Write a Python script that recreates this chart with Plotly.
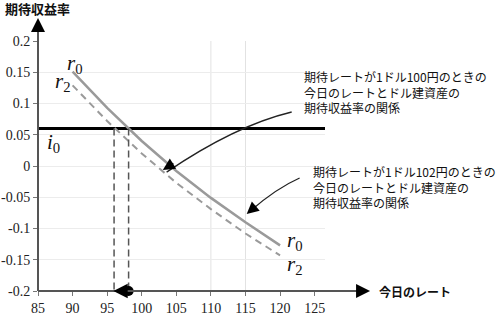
import plotly.graph_objects as go

# ---- data ----
rate_today = [90, 95, 100, 105, 110, 115, 120]
r0_values = [0.151, 0.093, 0.040, -0.008, -0.051, -0.090, -0.127]
r2_values = [0.129, 0.072, 0.020, -0.027, -0.069, -0.108, -0.143]
i0_rate = 0.06
cross_x = [96.0, 98.1]
y_ticks = [-0.2, -0.15, -0.1, -0.05, 0, 0.05, 0.1, 0.15, 0.2]
y_tick_text = ["-0.2", "-0.15", "-0.1", "-0.05", "0", "0.05", "0.1", "0.15", "0.2"]
x_ticks = [85, 90, 95, 100, 105, 110, 115, 120, 125]
x_range = [85, 126.5]
y_range = [-0.2, 0.2]

SERIF = "Liberation Serif, Times New Roman, DejaVu Serif, serif"
JP = "Noto Sans CJK JP"
AX = "#555555"

fig = go.Figure()

fig.add_trace(go.Scatter(x=x_range, y=[i0_rate, i0_rate], mode="lines",
                         line=dict(color="black", width=3), hoverinfo="skip"))
fig.add_trace(go.Scatter(x=rate_today, y=r0_values, mode="lines",
                         line=dict(color="#9a9a9a", width=2.5), hoverinfo="skip"))
fig.add_trace(go.Scatter(x=rate_today, y=r2_values, mode="lines",
                         line=dict(color="#9a9a9a", width=2, dash="7px,5px"), hoverinfo="skip"))
for cx in cross_x:
    fig.add_trace(go.Scatter(x=[cx, cx], y=[i0_rate, y_range[0]], mode="lines",
                             line=dict(color=AX, width=1.5, dash="7px,4px"), hoverinfo="skip"))
fig.add_trace(go.Scatter(x=[cross_x[1]], y=[y_range[0]], mode="markers",
                         marker=dict(color="black", size=10), cliponaxis=False, hoverinfo="skip"))

shapes = []
for gx in [110, 115]:
    shapes.append(dict(type="line", xref="x", yref="y", x0=gx, x1=gx, y0=y_range[0], y1=y_range[1],
                       line=dict(color="#e2e2e2", width=1), layer="below"))
shapes.append(dict(type="line", xref="paper", yref="paper", x0=0, x1=0, y0=0, y1=1.06,
                   line=dict(color=AX, width=2)))
shapes.append(dict(type="line", xref="paper", yref="paper", x0=0, x1=1.13, y0=0, y1=0,
                   line=dict(color=AX, width=2)))
shapes.append(dict(type="path", xref="x", yref="y",
                   path="M 121.68,0.0864 Q 113.5,0.0646 103.6,-0.0098",
                   line=dict(color="#222222", width=1.3)))
shapes.append(dict(type="path", xref="x", yref="y",
                   path="M 122.83,-0.0192 Q 119.44,-0.0358 115.7,-0.072",
                   line=dict(color="#222222", width=1.3)))

ann = []
ann.append(dict(xref="paper", yref="paper", x=0, y=1.092, ax=0, ay=12, text="", showarrow=True,
                arrowhead=2, arrowsize=1.4, arrowwidth=2, arrowcolor="black"))
ann.append(dict(xref="paper", yref="paper", x=1.157, y=0, ax=-12, ay=0, text="", showarrow=True,
                arrowhead=2, arrowsize=1.4, arrowwidth=2, arrowcolor="black"))
ann.append(dict(xref="x", yref="y", x=103.05, y=-0.0064, ax=12, ay=-7.5, text="", showarrow=True,
                arrowhead=2, arrowsize=1.5, arrowwidth=1.6, arrowcolor="black"))
ann.append(dict(xref="x", yref="y", x=115.18, y=-0.0768, ax=10.6, ay=-9.2, text="", showarrow=True,
                arrowhead=2, arrowsize=1.5, arrowwidth=1.6, arrowcolor="black"))
ann.append(dict(xref="x", yref="y", x=cross_x[0] - 0.1, y=y_range[0], ax=14, ay=0, text="",
                showarrow=True, arrowhead=2, arrowsize=1.3, arrowwidth=2.2, arrowcolor="black"))

ann.append(dict(xref="paper", yref="paper", x=-0.122, y=1.132, xanchor="left", yanchor="middle",
                text="<b>期待収益率</b>", showarrow=False, font=dict(family=JP, size=13, color="#111")))
ann.append(dict(xref="paper", yref="paper", x=1.181, y=0, xanchor="left", yanchor="middle",
                text="<b>今日のレート</b>", showarrow=False, font=dict(family=JP, size=12, color="#111")))

ann.append(dict(xref="x", yref="y", x=123.2, y=0.1184, xanchor="left", yanchor="middle", align="left",
                text="期待レートが1ドル100円のときの<br>今日のレートとドル建資産の<br>期待収益率の関係",
                showarrow=False, font=dict(family=JP, size=12, color="#111")))
ann.append(dict(xref="x", yref="y", x=128.5, y=0.056, xanchor="left", yanchor="middle",
                text="円建資産の利子率0.06", showarrow=False, font=dict(family=JP, size=13, color="#111")))
ann.append(dict(xref="x", yref="y", x=124.5, y=-0.0336, xanchor="left", yanchor="middle", align="left",
                text="期待レートが1ドル102円のときの<br>今日のレートとドル建資産の<br>期待収益率の関係",
                showarrow=False, font=dict(family=JP, size=12, color="#111")))

def lab(x, y, t, s):
    ann.append(dict(xref="x", yref="y", x=x, y=y, xanchor="center", yanchor="middle",
                    text="<i>%s</i><sub>%s</sub>" % (t, s), showarrow=False, borderpad=0,
                    font=dict(family=SERIF, size=21, color="#111")))

lab(90.4, 0.163, "r", "0")
lab(88.6, 0.134, "r", "2")
lab(87.3, 0.037, "i", "0")
lab(127.0, 0.043, "i", "0")
lab(122.1, -0.120, "r", "0")
lab(122.1, -0.158, "r", "2")

fig.update_layout(
    width=502, height=318,
    margin=dict(l=38, r=177, t=41, b=27),
    paper_bgcolor="white", plot_bgcolor="white",
    font=dict(family=SERIF),
    showlegend=False,
    shapes=shapes, annotations=ann,
    xaxis=dict(range=x_range, tickvals=x_ticks, showgrid=False, zeroline=False, showline=False,
               automargin=False, ticks="outside", ticklen=4, tickcolor="#777",
               tickfont=dict(family=SERIF, size=14, color="#222")),
    yaxis=dict(range=y_range, tickvals=y_ticks, ticktext=y_tick_text, showgrid=True, gridcolor="#ececec",
               automargin=False, zeroline=False, showline=False, ticks="outside", ticklen=4, tickcolor="#777",
               tickfont=dict(family=SERIF, size=14, color="#222")),
)

fig.write_html("out.html")
